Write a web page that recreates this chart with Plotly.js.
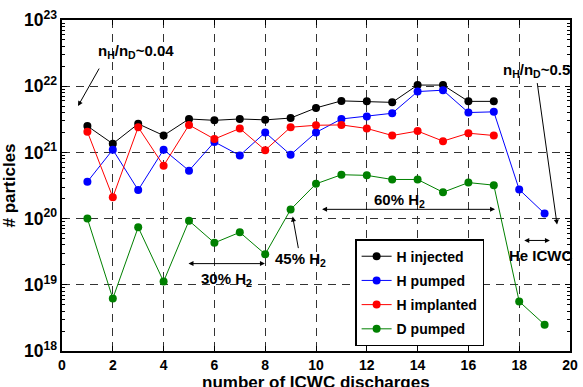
<!DOCTYPE html>
<html><head><meta charset="utf-8">
<script src="https://cdn.plot.ly/plotly-3.0.1.min.js"></script>
<style>html,body{margin:0;padding:0;background:#fff}#chart{width:583px;height:387px}</style>
</head><body><div id="chart"></div>
<script>
const dischargesShort = [1,2,3,4,5,6,7,8,9,10,11,12,13,14,15,16,17];
const dischargesLong = [1,2,3,4,5,6,7,8,9,10,11,12,13,14,15,16,17,18,19];
const hInjected = [2.5e21,1.35e21,2.7e21,1.8e21,3.2e21,3.05e21,3.2e21,3.1e21,3.3e21,4.7e21,6.0e21,5.9e21,5.7e21,1.04e22,1.04e22,5.9e21,5.9e21];
const hPumped = [3.6e20,1.1e21,2.7e20,1.1e21,5.3e20,1.44e21,9.0e20,2.0e21,9.2e20,2.0e21,3.2e21,3.5e21,3.9e21,8.3e21,8.7e21,4.0e21,4.1e21,2.75e20,1.19e20];
const hImplanted = [2.05e21,2.1e20,2.4e21,6.3e20,2.6e21,1.59e21,2.3e21,1.08e21,2.4e21,2.57e21,2.6e21,2.3e21,1.8e21,2.1e21,1.48e21,1.95e21,1.8e21];
const dPumped = [1.0e20,6.2e18,7.4e19,1.12e19,9.3e19,4.3e19,6.2e19,2.9e19,1.37e20,3.35e20,4.6e20,4.5e20,3.9e20,3.9e20,2.5e20,3.5e20,3.2e20,5.6e18,2.5e18];
const seriesNames = ['H injected','H pumped','H implanted','D pumped'];
const xTicks = [0,2,4,6,8,10,12,14,16,18,20];
const xTitle = 'number of ICWC discharges';
const yTitle = '# particles';

const FONT = 'Liberation Sans, Arial, sans-serif';
const colors = ['#000000','#0000ff','#ff0000','#008000'];
const xs = [dischargesShort, dischargesLong, dischargesShort, dischargesLong];
const ys = [hInjected, hPumped, hImplanted, dPumped];

const traces = ys.map((y,i) => ({
  x: xs[i], y: y, name: seriesNames[i], legendgroup: 'g' + i,
  type: 'scatter', mode: 'lines+markers',
  line: {color: colors[i], width: 1},
  marker: {color: colors[i], size: 8}
}));

const txt = (x, y, text, extra) => Object.assign({
  xref: 'x', yref: 'y', x: x, y: y, text: text, showarrow: false,
  font: {family: FONT, size: 15, color: '#000', weight: 'bold'}
}, extra || {});
const arrow = (x, y, ax, ay) => ({
  xref: 'x', yref: 'y', x: x, y: y, ax: ax, ay: ay, text: '', showarrow: true,
  arrowhead: 2, arrowsize: 1, arrowwidth: 1, arrowcolor: '#000'
});
const dbl = (x0, x1, y) => ({
  xref: 'x', yref: 'y', axref: 'x', ayref: 'y', x: x1, y: y, ax: x0, ay: y,
  text: '', showarrow: true, arrowside: 'end+start',
  arrowhead: 2, arrowsize: 1, arrowwidth: 1, arrowcolor: '#000'
});

const annotations = [
  txt(2.9, 22.53, 'n<sub>H</sub>/n<sub>D</sub>~0.04'),
  arrow(0.63, 21.70, 22, -39),
  txt(18.7, 22.23, 'n<sub>H</sub>/n<sub>D</sub>~0.5'),
  arrow(19.49, 19.91, -20, -143),
  txt(13.3, 20.27, '60% H<sub>2</sub>'),
  dbl(10.18, 17.05, 20.14),
  txt(6.47, 19.08, '30% H<sub>2</sub>'),
  dbl(4.92, 7.99, 19.32),
  txt(9.37, 19.38, '45% H<sub>2</sub>'),
  arrow(9.08, 20.03, 6, 33),
  txt(18.85, 19.44, 'He ICWC'),
  dbl(18.14, 19.21, 19.67),
  {xref: 'paper', yref: 'paper', x: 0.5, y: -0.096, xanchor: 'center', yanchor: 'middle',
   text: xTitle, showarrow: false,
   font: {family: FONT, size: 17, color: '#000', weight: 'bold'}}
];

const axisCommon = {
  showline: true, linecolor: '#000', linewidth: 2, mirror: 'allticks',
  ticks: 'inside', ticklen: 5, tickwidth: 1, tickcolor: '#000',
  showgrid: true, gridcolor: '#333', gridwidth: 1, griddash: '8px,6px',
  zeroline: false,
  tickfont: {family: FONT, size: 14, color: '#000', weight: 'bold'}
};

const layout = {
  width: 583, height: 387,
  margin: {l: 62, r: 13, t: 20, b: 36},
  paper_bgcolor: '#fff', plot_bgcolor: '#fff',
  font: {family: FONT, color: '#000'},
  showlegend: true,
  legend: {
    x: 0.577, y: 0.338, xanchor: 'left', yanchor: 'top',
    traceorder: 'grouped', tracegroupgap: 3,
    bgcolor: '#fff', bordercolor: '#000', borderwidth: 1.5,
    font: {family: FONT, size: 14, color: '#000', weight: 'bold'}
  },
  xaxis: Object.assign({}, axisCommon, {
    range: [0, 20], tickmode: 'array', tickvals: xTicks,
    automargin: false
  }),
  yaxis: Object.assign({}, axisCommon, {
    type: 'log', range: [18, 23], dtick: 1, exponentformat: 'power',
    automargin: false,
    minor: {dtick: 'D1', ticks: 'inside', ticklen: 3, tickcolor: '#000', showgrid: false},
    title: {text: yTitle, standoff: 6,
      font: {family: FONT, size: 17, color: '#000', weight: 'bold'}}
  }),
  annotations: annotations
};

Plotly.newPlot('chart', traces, layout, {staticPlot: true, displayModeBar: false});
</script></body></html>
